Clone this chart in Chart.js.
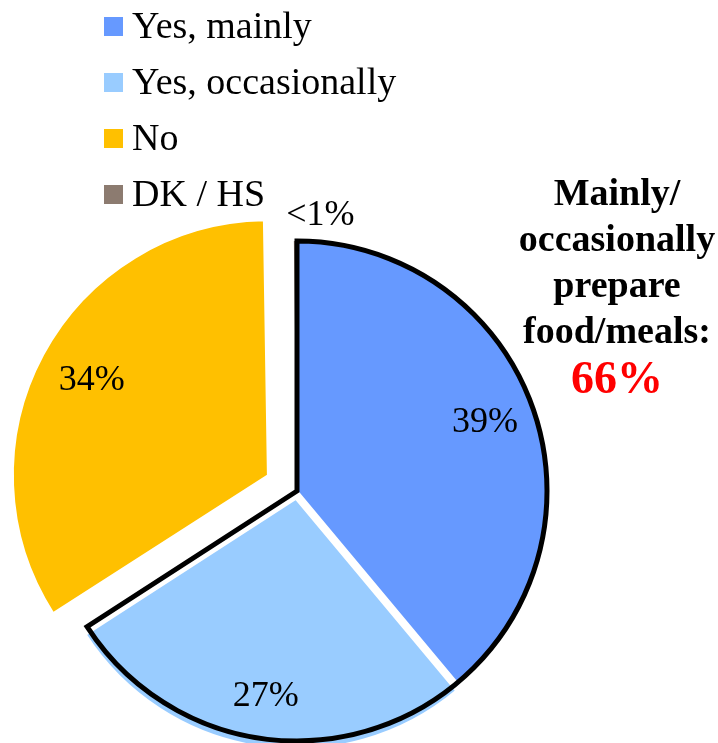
<!DOCTYPE html>
<html>
<head>
<meta charset="utf-8">
<script src="https://cdn.jsdelivr.net/npm/chart.js@4.4.1/dist/chart.umd.min.js"></script>
<style>
  body { margin: 0; background: #fff; }
  #wrap { position: relative; width: 718px; height: 743px; overflow: hidden; }
  #legend { position: absolute; left: 104px; top: -3px; font-family: "Liberation Serif", "Times New Roman", serif; font-size: 38px; color: #000; }
  .item { display: flex; align-items: center; height: 56px; line-height: 56px; white-space: nowrap; }
  .box { width: 19px; height: 19px; margin-right: 9px; margin-top: 2px; }
  #note { position: absolute; left: 517px; width: 200px; top: 169px; text-align: center; font-family: "Liberation Serif", "Times New Roman", serif; font-weight: bold; font-size: 38px; line-height: 46px; color: #000; white-space: nowrap; }
  #note .big { color: #ff0000; font-size: 46px; line-height: 50px; }
</style>
</head>
<body>
<div id="wrap">
  <canvas id="chart" width="718" height="743"></canvas>
  <div id="legend"></div>
  <div id="note">Mainly/<br>occasionally<br>prepare<br>food/meals:<div class="big">66%</div></div>
</div>
<script>
const categories = ['Yes, mainly', 'Yes, occasionally', 'No', 'DK / HS'];
const shares = [39, 27, 34, 0.2];
const shareLabels = ['39%', '27%', '34%', '<1%'];
const sliceColors = ['#6699ff', '#99ccff', '#ffc000', '#8c7b70'];

// legend built from the same arrays
const legend = document.getElementById('legend');
categories.forEach((name, i) => {
  const row = document.createElement('div');
  row.className = 'item';
  row.innerHTML = `<span class="box" style="background:${sliceColors[i]}"></span><span>${name}</span>`;
  legend.appendChild(row);
});

// black outline round the two "yes" slices
const outlinePlugin = {
  id: 'outline',
  afterDatasetsDraw(chart) {
    const arcs = chart.getDatasetMeta(0).data;
    const first = arcs[0];
    const second = arcs[1];
    const ctx = chart.ctx;
    ctx.save();
    ctx.beginPath();
    ctx.moveTo(first.x, first.y);
    ctx.arc(first.x, first.y, first.outerRadius, first.startAngle, second.endAngle);
    ctx.closePath();
    ctx.lineWidth = 5;
    ctx.lineJoin = 'miter';
    ctx.strokeStyle = '#000';
    ctx.stroke();
    ctx.restore();
  }
};

const labelPlugin = {
  id: 'sliceLabels',
  afterDatasetsDraw(chart) {
    const ctx = chart.ctx;
    const ds = chart.data.datasets[0];
    chart.getDatasetMeta(0).data.forEach((arc, i) => {
      const mid = (arc.startAngle + arc.endAngle) / 2;
      const shift = (ds.offset[i] || 0) / 4;
      ctx.save();
      ctx.font = '36px "Liberation Serif", serif';
      ctx.fillStyle = '#000';
      ctx.textBaseline = 'middle';
      if (shares[i] < 1) {
        // tiny slice: label sits outside
        const r = arc.outerRadius + 25;
        ctx.textAlign = 'left';
        ctx.fillText(shareLabels[i], arc.x + Math.cos(mid) * r - 9, arc.y + Math.sin(mid) * r);
      } else {
        const r = shift + arc.outerRadius * 0.8;
        ctx.textAlign = 'center';
        ctx.fillText(shareLabels[i], arc.x + Math.cos(mid) * r, arc.y + Math.sin(mid) * r);
      }
      ctx.restore();
    });
  }
};

new Chart(document.getElementById('chart'), {
  type: 'pie',
  data: {
    labels: categories,
    datasets: [{
      data: shares,
      backgroundColor: sliceColors,
      borderColor: '#fff',
      borderWidth: [2, 2, 2, 0],
      offset: [0, 32, 132, 0],
      radius: 250
    }]
  },
  options: {
    responsive: false,
    animation: false,
    layout: { padding: { left: 0, right: 124, top: 239, bottom: 0 } },
    plugins: {
      legend: { display: false },
      tooltip: { enabled: false }
    }
  },
  plugins: [outlinePlugin, labelPlugin]
});
</script>
</body>
</html>
